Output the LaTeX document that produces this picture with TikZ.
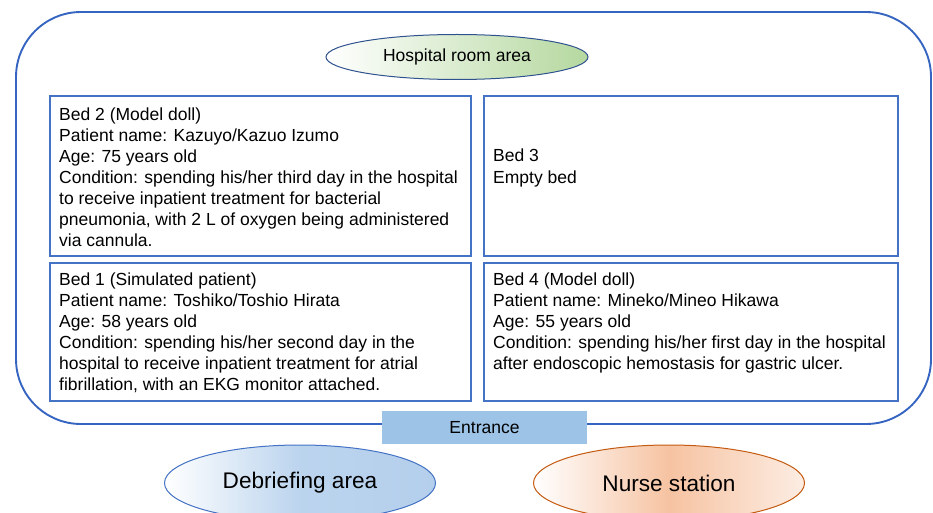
\documentclass[tikz,border=0pt]{standalone}
\usepackage{fontspec}
\setmainfont{Liberation Sans}
\usetikzlibrary{shapes.geometric}
\definecolor{outerblue}{HTML}{3565C0}
\definecolor{boxblue}{HTML}{4472C4}
\definecolor{darkblue}{HTML}{2F528F}
\definecolor{lgreen}{HTML}{B5D89F}
\definecolor{lblue}{HTML}{B4CFEC}
\definecolor{entblue}{HTML}{9DC3E6}
\definecolor{lorange}{HTML}{F6C3A2}
\definecolor{dorange}{HTML}{C55A11}
\tikzset{
  bedbox/.style={draw=boxblue, line width=1.6pt},
  bedtext/.style={anchor=base west, align=left, inner sep=0pt, font=\fontsize{17.5}{21}\selectfont},
  area/.style={ellipse, inner sep=0pt, line width=1pt},
}
\begin{document}
\begin{tikzpicture}[x=1pt,y=-1pt]
\useasboundingbox (0,0) rectangle (933,513);
% outer room
\draw[outerblue, line width=1.9pt, rounded corners=65pt] (16,12) rectangle (931,424);
% bed boxes
\draw[bedbox] (50,96) rectangle (471,256);
\draw[bedbox] (484,96) rectangle (898,256);
\draw[bedbox] (50,263) rectangle (471,401);
\draw[bedbox] (484,263) rectangle (898,401);
% hospital room ellipse
\node[area, draw=darkblue, left color=white, right color=lgreen, minimum width=262pt, minimum height=45pt, font=\fontsize{17.5}{21}\selectfont] (room) at (457,57) {Hospital room area};
% bed texts (anchored at the baseline of the last line)
\node[bedtext] (bed2) at (59,246) {Bed 2 (Model doll)\\Patient name: Kazuyo/Kazuo Izumo\\Age: 75 years old\\Condition: spending his/her third day in the hospital\\to receive inpatient treatment for bacterial\\pneumonia, with 2 L of oxygen being administered\\via cannula.};
\node[bedtext] (bed3) at (493,183) {Bed 3\\Empty bed};
\node[bedtext] (bed1) at (59,390) {Bed 1 (Simulated patient)\\Patient name: Toshiko/Toshio Hirata\\Age: 58 years old\\Condition: spending his/her second day in the\\hospital to receive inpatient treatment for atrial\\fibrillation, with an EKG monitor attached.};
\node[bedtext] (bed4) at (493,369) {Bed 4 (Model doll)\\Patient name: Mineko/Mineo Hikawa\\Age: 55 years old\\Condition: spending his/her first day in the hospital\\after endoscopic hemostasis for gastric ulcer.};
% entrance
\node[fill=entblue, minimum width=205pt, minimum height=33pt, inner sep=0pt, font=\fontsize{17.5}{21}\selectfont] (entrance) at (484.5,427.5) {Entrance};
% bottom areas
\node[area, draw=boxblue, left color=white, right color=lblue, middle color=lblue!90, minimum width=271pt, minimum height=76pt, font=\fontsize{22.6}{27}\selectfont] (debrief) at (300,483) {Debriefing area};
\node[area, draw=dorange, left color=white, right color=white!70!lorange, middle color=lorange, minimum width=271pt, minimum height=76pt, font=\fontsize{22.6}{27}\selectfont] (nurse) at (669,483) {Nurse station};
\end{tikzpicture}
\end{document}
